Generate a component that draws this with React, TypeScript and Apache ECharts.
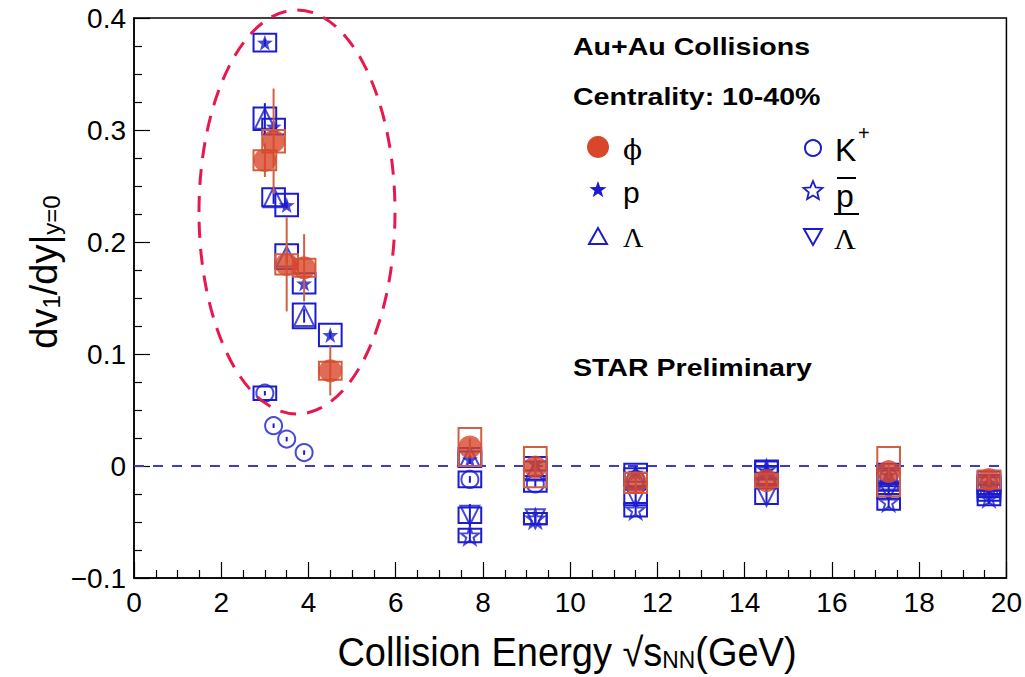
import React, { useEffect, useRef } from "react";
import * as echarts from "echarts";

// ---------- data ----------
const phiE = [3.0, 3.2, 3.5, 3.9, 4.5, 7.7, 9.2, 11.5, 14.5, 17.3, 19.6];
const phiV = [0.273, 0.29, 0.18, 0.177, 0.085, 0.017, -0.001, -0.015, -0.013, -0.005, -0.012];
const phiStat = [0.015, 0.047, 0.042, 0.03, 0.022, 0.008, 0.008, 0.006, 0.005, 0.006, 0.005];
const phiSys = [0.009, 0.01, 0.009, 0.008, 0.008, 0.017, 0.018, 0.009, 0.006, 0.022, 0.008];

const pE = [3.0, 3.2, 3.5, 3.9, 4.5, 7.7, 9.2, 11.5, 14.5, 17.3, 19.6];
const pV = [0.378, 0.303, 0.233, 0.163, 0.117, 0.006, 0.002, -0.006, -0.004, -0.008, -0.015];
const pStat = [0.003, 0.003, 0.003, 0.003, 0.003, 0.004, 0.003, 0.003, 0.003, 0.004, 0.004];
const pSys = [0.008, 0.007, 0.01, 0.009, 0.01, 0.007, 0.006, 0.008, 0.008, 0.01, 0.01];

const lamE = [3.0, 3.2, 3.5, 3.9, 7.7, 9.2, 11.5, 14.5, 17.3, 19.6];
const lamV = [0.31, 0.24, 0.187, 0.134, 0.008, -0.004, -0.01, -0.008, -0.012, -0.018];
const lamStat = [0.014, 0.006, 0.006, 0.006, 0.006, 0.005, 0.005, 0.005, 0.006, 0.006];
const lamSys = [0.01, 0.008, 0.011, 0.011, 0.008, 0.008, 0.008, 0.008, 0.01, 0.01];

const kE = [3.0, 3.2, 3.5, 3.9, 7.7, 9.2, 11.5, 14.5, 17.3, 19.6];
const kV = [0.065, 0.036, 0.024, 0.012, -0.012, -0.016, -0.012, -0.012, -0.01, -0.016];
const kStat = [0.002, 0.002, 0.002, 0.002, 0.003, 0.003, 0.003, 0.003, 0.003, 0.003];
const kSys = [0.006, 0, 0, 0, 0.007, 0.007, 0.006, 0.006, 0.006, 0.006];

const pbarE = [7.7, 9.2, 11.5, 14.5, 17.3, 19.6];
const pbarV = [-0.062, -0.047, -0.039, -0.003, -0.032, -0.028];
const pbarStat = [0.006, 0.004, 0.004, 0.006, 0.006, 0.006];
const pbarSys = [0.006, 0.005, 0.006, 0.008, 0.007, 0.007];

const lbarE = [7.7, 9.2, 11.5, 14.5, 17.3, 19.6];
const lbarV = [-0.044, -0.047, -0.028, -0.027, -0.022, -0.024];
const lbarStat = [0.01, 0.004, 0.006, 0.006, 0.006, 0.006];
const lbarSys = [0.007, 0.005, 0.007, 0.007, 0.007, 0.007];

const xTicks = [0, 20, 2];
const yTicks = [-0.1, 0.4, 0.1];

// ---------- style ----------
const BLUE = "#1c1ccf";
const RED = "#d8472b";
const RED_BOX = "#d0603f";
const FONT = "Liberation Sans";
const STAR_PATH =
  "path://M50 0 L61.76 33.82 L97.55 34.55 L69.02 56.18 L79.39 90.45 L50 70 L20.61 90.45 L30.98 56.18 L2.45 34.55 L38.24 33.82 Z";
const DOWN_TRI = "path://M0 0 L100 0 L50 87 Z";

function rows(E: number[], V: number[], S: number[], Y: number[]) {
  return E.map((e, i) => [e, V[i], S[i], Y[i]]);
}

function errSeries(name: string, data: number[][], color: string, z: number) {
  return {
    type: "custom",
    name,
    z,
    data,
    renderItem: (params: any, api: any) => {
      const x = api.value(0);
      const y = api.value(1);
      const st = api.value(2);
      const sy = api.value(3);
      const top = api.coord([x, y + st]);
      const bot = api.coord([x, y - st]);
      const b0 = api.coord([x - 0.26, y + sy]);
      const b1 = api.coord([x + 0.26, y - sy]);
      const children: any[] = [
        {
          type: "line",
          shape: { x1: top[0], y1: top[1], x2: bot[0], y2: bot[1] },
          style: { stroke: color, lineWidth: 2 },
        },
      ];
      if (sy > 0) {
        children.push({
          type: "rect",
          shape: { x: b0[0], y: b0[1], width: b1[0] - b0[0], height: b1[1] - b0[1] },
          style: { stroke: color, fill: "none", lineWidth: 2 },
        });
      }
      return { type: "group", children };
    },
  };
}

function markSeries(name: string, E: number[], V: number[], symbol: string, size: number, filled: boolean, color: string, z: number) {
  return {
    type: "scatter",
    name,
    z,
    symbol,
    symbolSize: size,
    data: E.map((e, i) => [e, V[i]]),
    itemStyle: filled
      ? { color, borderWidth: 0 }
      : { color: "rgba(255,255,255,0)", borderColor: color, borderWidth: 2 },
  };
}

function starPts(cx: number, cy: number, R: number, r: number) {
  const pts: number[][] = [];
  for (let i = 0; i < 10; i++) {
    const a = -Math.PI / 2 + (i * Math.PI) / 5;
    const rad = i % 2 === 0 ? R : r;
    pts.push([cx + rad * Math.cos(a), cy + rad * Math.sin(a)]);
  }
  return pts;
}

export default function App() {
  const ref = useRef<HTMLDivElement>(null);
  useEffect(() => {
    if (!ref.current) return;
    const chart = echarts.init(ref.current, null, { renderer: "svg" });
    const txt = (text: string, x: number, y: number, font: string, extra: any = {}, sx = 1) => ({
      type: "text",
      x,
      y,
      scaleX: sx,
      style: { text, font, fill: "#000", align: "left", verticalAlign: "middle", textAlign: "left", textVerticalAlign: "middle", ...extra },
    });
    const option: any = {
      animation: false,
      backgroundColor: "#fff",
      grid: { left: 134, right: 16, top: 18, bottom: 99, show: true, borderColor: "#000", borderWidth: 1.5, backgroundColor: "transparent" },
      xAxis: {
        type: "value",
        min: xTicks[0],
        max: xTicks[1],
        interval: xTicks[2],
        axisLine: { show: true, onZero: false, lineStyle: { color: "#000", width: 1.5 } },
        axisTick: { show: true, inside: true, length: 16, lineStyle: { color: "#000", width: 1.2 } },
        minorTick: { show: true, splitNumber: 4, length: 8, lineStyle: { color: "#000", width: 1.2 } },
        splitLine: { show: false },
        axisLabel: { color: "#000", fontFamily: FONT, fontSize: 28, margin: 10 },
      },
      yAxis: {
        type: "value",
        min: yTicks[0],
        max: yTicks[1],
        interval: yTicks[2],
        axisLine: { show: true, onZero: false, lineStyle: { color: "#000", width: 1.5 } },
        axisTick: { show: true, inside: true, length: 16, lineStyle: { color: "#000", width: 1.2 } },
        minorTick: { show: true, splitNumber: 4, length: 8, lineStyle: { color: "#000", width: 1.2 } },
        splitLine: { show: false },
        axisLabel: {
          color: "#000",
          fontFamily: FONT,
          fontSize: 28,
          margin: 8,
          formatter: (v: number) => String(Math.round(v * 10) / 10).replace("-", "\u2212"),
        },
      },
      series: [
        {
          type: "line",
          z: 1,
          symbol: "none",
          data: [
            [xTicks[0], 0],
            [xTicks[1], 0],
          ],
          lineStyle: { color: "#3b3bd0", width: 2, type: [10, 9] },
        },
        errSeries("K+ err", rows(kE, kV, kStat, kSys), BLUE, 2),
        errSeries("p err", rows(pE, pV, pStat, pSys), BLUE, 2),
        errSeries("L err", rows(lamE, lamV, lamStat, lamSys), BLUE, 2),
        errSeries("pbar err", rows(pbarE, pbarV, pbarStat, pbarSys), BLUE, 2),
        errSeries("Lbar err", rows(lbarE, lbarV, lbarStat, lbarSys), BLUE, 2),
        markSeries("K+", kE, kV, "circle", 17, false, BLUE, 3),
        markSeries("Lambda", lamE, lamV, "triangle", 20, false, BLUE, 3),
        markSeries("anti-Lambda", lbarE, lbarV, DOWN_TRI, 19, false, BLUE, 3),
        markSeries("anti-p", pbarE, pbarV, STAR_PATH, 18, false, BLUE, 3),
        markSeries("p", pE, pV, STAR_PATH, 16, true, BLUE, 3),
        errSeries("phi err", rows(phiE, phiV, phiStat, phiSys), RED_BOX, 4),
        markSeries("phi", phiE, phiV, "circle", 23, true, RED, 5),
      ],
      graphic: [
        {
          type: "ellipse",
          shape: { cx: 297, cy: 212, rx: 98, ry: 202 },
          style: { fill: "none", stroke: "#e8174f", lineWidth: 3, lineDash: [16, 11] },
          z: 10,
        },
        txt("Au+Au Collisions", 573, 47, `bold 24px "${FONT}"`, {}, 1.19),
        txt("Centrality: 10-40%", 573, 97, `bold 24px "${FONT}"`, {}, 1.19),
        txt("STAR Preliminary", 573, 368, `bold 24px "${FONT}"`, {}, 1.19),
        { type: "circle", shape: { cx: 598, cy: 147, r: 11 }, style: { fill: RED } },
        txt("\u03D5", 623, 149, `28px "DejaVu Serif"`),
        { type: "polygon", shape: { points: starPts(598, 190, 9, 3.6) }, style: { fill: BLUE } },
        txt("p", 623, 192, `30px "${FONT}"`),
        { type: "polygon", shape: { points: [[598, 228], [589, 244], [607, 244]] }, style: { fill: "none", stroke: BLUE, lineWidth: 2 } },
        txt("\u039B", 623, 237, `28px "Liberation Serif"`),
        { type: "circle", shape: { cx: 813, cy: 148, r: 8 }, style: { fill: "none", stroke: BLUE, lineWidth: 2 } },
        txt("K", 835, 150, `32px "${FONT}"`),
        txt("+", 858, 133, `20px "${FONT}"`),
        { type: "polygon", shape: { points: starPts(813, 191, 10, 4.5) }, style: { fill: "none", stroke: BLUE, lineWidth: 1.8 } },
        txt("p", 836, 196, `32px "${FONT}"`),
        { type: "line", shape: { x1: 837, y1: 178, x2: 856, y2: 178 }, style: { stroke: "#000", lineWidth: 2 } },
        { type: "polygon", shape: { points: [[804, 229], [822, 229], [813, 245]] }, style: { fill: "none", stroke: BLUE, lineWidth: 2 } },
        txt("\u039B", 834, 238, `30px "Liberation Serif"`),
        { type: "line", shape: { x1: 834, y1: 214, x2: 859, y2: 214 }, style: { stroke: "#000", lineWidth: 2 } },
        {
          type: "text",
          x: 40,
          y: 272,
          rotation: Math.PI / 2,
          style: {
            text: "{m|dv}{s|1}{m|/dy|}{s|y=0}",
            align: "center",
            verticalAlign: "middle",
            textAlign: "center",
            textVerticalAlign: "middle",
            fill: "#000",
            rich: {
              m: { fontSize: 38, fontFamily: FONT, lineHeight: 46, verticalAlign: "bottom", fill: "#000" },
              s: { fontSize: 24, fontFamily: FONT, lineHeight: 22, verticalAlign: "bottom", fill: "#000" },
            },
          },
        },
        {
          type: "text",
          x: 567,
          y: 648,
          scaleX: 0.95,
          style: {
            text: "{m|Collision Energy \u221A}{m|s}{s|NN}{m|(GeV)}",
            align: "center",
            verticalAlign: "middle",
            textAlign: "center",
            textVerticalAlign: "middle",
            fill: "#000",
            rich: {
              m: { fontSize: 40, fontFamily: FONT, lineHeight: 48, verticalAlign: "bottom", fill: "#000" },
              s: { fontSize: 24, fontFamily: FONT, lineHeight: 24, verticalAlign: "bottom", fill: "#000" },
            },
          },
        },
      ],
    };
    chart.setOption(option);
    return () => chart.dispose();
  }, []);
  return <div ref={ref} style={{ position: "fixed", left: 0, top: 0, width: 1025, height: 677 }} />;
}
